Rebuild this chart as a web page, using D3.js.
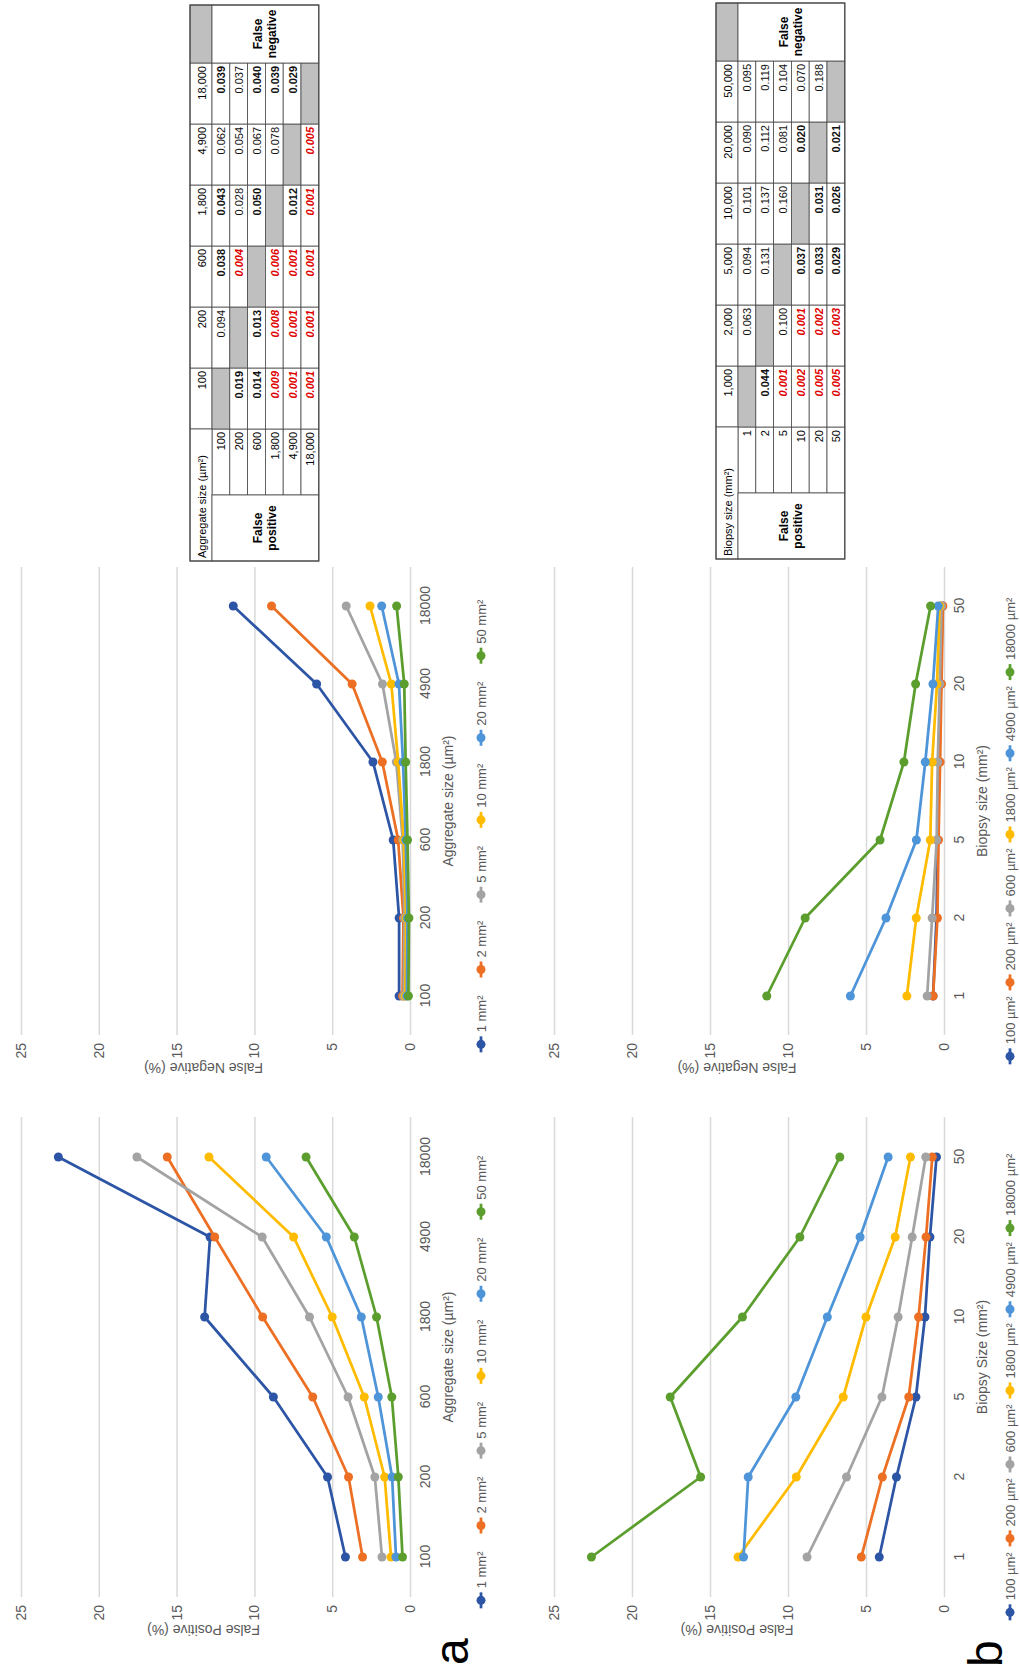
<!DOCTYPE html>
<html>
<head>
<meta charset="utf-8">
<script src="https://cdn.jsdelivr.net/npm/d3@7"></script>
<style>
  body { margin: 0; background: #fff; }
  text { font-family: Arial, "Liberation Sans", sans-serif; }
</style>
</head>
<body>
<svg id="fig" width="1020" height="1667"></svg>
<script>
// ---------- data ----------
var biopsySizes = ["1", "2", "5", "10", "20", "50"];
var aggregateSizes = ["100", "200", "600", "1800", "4900", "18000"];

// false positive (%) : one row per biopsy size, one value per aggregate size
var falsePositive = [
  [4.15, 5.3, 8.78, 13.2, 12.85, 22.6],
  [3.05, 3.95, 6.25, 9.47, 12.55, 15.6],
  [1.8, 2.26, 3.98, 6.46, 9.5, 17.55],
  [1.22, 1.63, 2.94, 5.0, 7.48, 12.92],
  [0.9, 1.15, 2.04, 3.13, 5.38, 9.24],
  [0.48, 0.75, 1.17, 2.15, 3.58, 6.68]
];
// false negative (%) : same layout
var falseNegative = [
  [0.7, 0.7, 1.08, 2.38, 6.0, 11.36],
  [0.48, 0.42, 0.76, 1.78, 3.72, 8.9],
  [0.4, 0.35, 0.47, 0.88, 1.77, 4.1],
  [0.3, 0.25, 0.4, 0.76, 1.2, 2.57],
  [0.2, 0.16, 0.27, 0.45, 0.71, 1.82],
  [0.1, 0.07, 0.16, 0.28, 0.37, 0.86]
];
var yTicks = [0, 5, 10, 15, 20, 25];

// p-value tables (null = diagonal)
var aggColLabels = ["100", "200", "600", "1,800", "4,900", "18,000"];
var aggRowLabels = ["100", "200", "600", "1,800", "4,900", "18,000"];
var aggP = [
  [null, "0.094", "0.038", "0.043", "0.062", "0.039"],
  ["0.019", null, "0.004", "0.028", "0.054", "0.037"],
  ["0.014", "0.013", null, "0.050", "0.067", "0.040"],
  ["0.009", "0.008", "0.006", null, "0.078", "0.039"],
  ["0.001", "0.001", "0.001", "0.012", null, "0.029"],
  ["0.001", "0.001", "0.001", "0.001", "0.005", null]
];
// 0 = not significant, 1 = significant, 2 = highly significant
var aggSig = [
  [0, 0, 1, 1, 0, 1],
  [1, 0, 2, 0, 0, 0],
  [1, 1, 0, 1, 0, 1],
  [2, 2, 2, 0, 0, 1],
  [2, 2, 2, 1, 0, 1],
  [2, 2, 2, 2, 2, 0]
];
var biopsyColLabels = ["1,000", "2,000", "5,000", "10,000", "20,000", "50,000"];
var biopsyRowLabels = ["1", "2", "5", "10", "20", "50"];
var biopsyP = [
  [null, "0.063", "0.094", "0.101", "0.090", "0.095"],
  ["0.044", null, "0.131", "0.137", "0.112", "0.119"],
  ["0.001", "0.100", null, "0.160", "0.081", "0.104"],
  ["0.002", "0.001", "0.037", null, "0.020", "0.070"],
  ["0.005", "0.002", "0.033", "0.031", null, "0.188"],
  ["0.005", "0.003", "0.029", "0.026", "0.021", null]
];
var biopsySig = [
  [0, 0, 0, 0, 0, 0],
  [1, 0, 0, 0, 0, 0],
  [2, 0, 0, 0, 0, 0],
  [2, 2, 1, 0, 1, 0],
  [2, 2, 1, 1, 0, 0],
  [2, 2, 1, 1, 1, 0]
];

var colors = ["#2D55A5", "#EC6F24", "#A3A3A3", "#FFBB00", "#4E94D8", "#5B9E2E"];
var grey = "#595959";

// the whole figure is drawn landscape (1667 x 1020) and turned a quarter left
var svg = d3.select("#fig");
var fig = svg.append("g").attr("transform", "translate(0,1667) rotate(-90)");

var rows = [
  { top: 21, bottom: 410, legendDy: 71, legendShift: -25, legendGap: 18 },
  { top: 554, bottom: 944, legendDy: 66, legendShift: -30, legendGap: 6 }
];
var fpRange = [70, 550];
var fnRange = [632, 1100];

function drawChart(o) {
  var g = fig.append("g");
  var x = d3.scalePoint().domain(o.cats).range(o.range).padding(0.5);
  var y = d3.scaleLinear().domain([0, 25]).range([o.row.bottom, o.row.top]);
  var w = o.range[1] - o.range[0];

  // y grid + labels
  g.append("g")
    .attr("transform", `translate(${o.range[0]},0)`)
    .call(d3.axisLeft(y).tickValues(yTicks).tickSize(-w).tickPadding(8))
    .call((g) => g.select(".domain").remove())
    .call((g) => g.selectAll(".tick line").attr("stroke", "#D9D9D9").attr("stroke-width", 1.5))
    .call((g) => g.selectAll(".tick text").attr("fill", grey).attr("font-size", 14).attr("font-family", null));

  // x labels
  g.append("g")
    .attr("transform", `translate(0,${o.row.bottom})`)
    .call(d3.axisBottom(x).tickSize(0).tickPadding(10))
    .call((g) => g.select(".domain").remove())
    .call((g) => g.selectAll(".tick text").attr("fill", grey).attr("font-size", 14).attr("font-family", null));

  // axis titles
  g.append("text")
    .attr("x", (o.range[0] + o.range[1]) / 2)
    .attr("y", o.row.bottom + 43)
    .attr("text-anchor", "middle")
    .attr("font-size", 14)
    .attr("fill", grey)
    .text(o.xTitle);
  g.append("text")
    .attr("transform", `translate(${o.range[0] - 28},${(o.row.top + o.row.bottom) / 2 - 12}) rotate(-90)`)
    .attr("text-anchor", "middle")
    .attr("font-size", 14)
    .attr("fill", grey)
    .text(o.yTitle);

  var line = d3.line().x((d, i) => x(o.cats[i])).y((d) => y(d));
  var series = g.append("g").selectAll("g").data(o.series).join("g");
  series.append("path")
    .attr("d", line)
    .attr("fill", "none")
    .attr("stroke", (d, i) => colors[i])
    .attr("stroke-width", 2.75)
    .attr("stroke-linejoin", "round");
  series.selectAll("circle")
    .data((d, i) => d.map((v, k) => ({ v: v, k: k, s: i })))
    .join("circle")
    .attr("cx", (d) => x(o.cats[d.k]))
    .attr("cy", (d) => y(d.v))
    .attr("r", 4.5)
    .attr("fill", (d) => colors[d.s]);

  // legend
  var lg = g.append("g");
  var items = lg.selectAll("g").data(o.names).join("g");
  items.append("line").attr("x1", 0).attr("x2", 16)
    .attr("stroke", (d, i) => colors[i]).attr("stroke-width", 2.75);
  items.append("circle").attr("cx", 8).attr("r", 4.5).attr("fill", (d, i) => colors[i]);
  items.append("text").attr("x", 20).attr("dy", "0.35em")
    .attr("font-size", 13).attr("fill", grey).text((d) => d);
  var pos = 0, offs = [];
  items.each(function () {
    offs.push(pos);
    pos += 20 + this.querySelector("text").getComputedTextLength() + o.row.legendGap;
  });
  pos -= o.row.legendGap;
  var start = (o.range[0] + o.range[1]) / 2 + o.row.legendShift - pos / 2;
  items.attr("transform", (d, i) => `translate(${start + offs[i]},${o.row.bottom + o.row.legendDy})`);
}

function drawTable(o) {
  var colW = [66, 66, 61, 61, 61, 61, 61, 61, 58];
  var headH = 22, rowH = 17.8;
  var xs = [0];
  colW.forEach((w) => xs.push(xs[xs.length - 1] + w));
  var width = xs[xs.length - 1], height = headH + rowH * 6;
  var t = fig.append("g").attr("transform", `translate(${o.u0},${o.v0})`);
  var line = "#4a4a4a";

  var cells = [];
  o.values.forEach((r, i) => r.forEach((v, j) => cells.push({ i: i, j: j, v: v, s: o.sig[i][j] })));

  // row label cells
  t.selectAll(".rl").data(o.rowLabels).join("rect")
    .attr("x", xs[1]).attr("y", (d, i) => headH + i * rowH)
    .attr("width", colW[1]).attr("height", rowH)
    .attr("fill", "#fff").attr("stroke", line).attr("stroke-width", 0.8);
  // column header cells
  t.selectAll(".ch").data(o.colLabels).join("rect")
    .attr("x", (d, j) => xs[j + 2]).attr("y", 0)
    .attr("width", (d, j) => colW[j + 2]).attr("height", headH)
    .attr("fill", "#fff").attr("stroke", line).attr("stroke-width", 0.8);
  // value cells
  t.selectAll(".vc").data(cells).join("rect")
    .attr("x", (d) => xs[d.j + 2]).attr("y", (d) => headH + d.i * rowH)
    .attr("width", (d) => colW[d.j + 2]).attr("height", rowH)
    .attr("fill", (d) => (d.v === null ? "#BFBFBF" : "#fff"))
    .attr("stroke", line).attr("stroke-width", 0.8);
  // merged cells
  var merged = [
    [0, 0, colW[0] + colW[1], headH, "#fff"],
    [0, headH, colW[0], rowH * 6, "#fff"],
    [xs[8], 0, colW[8], headH, "#BFBFBF"],
    [xs[8], headH, colW[8], rowH * 6, "#fff"]
  ];
  t.selectAll(".mc").data(merged).join("rect")
    .attr("x", (d) => d[0]).attr("y", (d) => d[1])
    .attr("width", (d) => d[2]).attr("height", (d) => d[3])
    .attr("fill", (d) => d[4]).attr("stroke", line).attr("stroke-width", 0.8);
  t.append("rect").attr("width", width).attr("height", height)
    .attr("fill", "none").attr("stroke", line).attr("stroke-width", 1.2);

  t.append("text").attr("x", 3).attr("y", headH - 6)
    .attr("font-size", 11).text(o.title);
  t.selectAll(".cht").data(o.colLabels).join("text")
    .attr("x", (d, j) => xs[j + 3] - 3).attr("y", headH - 6)
    .attr("text-anchor", "end").attr("font-size", 11).text((d) => d);
  t.selectAll(".rlt").data(o.rowLabels).join("text")
    .attr("x", xs[2] - 3).attr("y", (d, i) => headH + (i + 1) * rowH - 4.5)
    .attr("text-anchor", "end").attr("font-size", 11).text((d) => d);
  t.selectAll(".vt").data(cells.filter((d) => d.v !== null)).join("text")
    .attr("x", (d) => xs[d.j + 3] - 3).attr("y", (d) => headH + (d.i + 1) * rowH - 4.5)
    .attr("text-anchor", "end").attr("font-size", 11)
    .attr("font-weight", (d) => (d.s > 0 ? "bold" : null))
    .attr("font-style", (d) => (d.s === 2 ? "italic" : null))
    .attr("fill", (d) => (d.s === 2 ? "#E00000" : "#111"))
    .text((d) => d.v);

  [["False", "positive", colW[0] / 2], ["False", "negative", xs[8] + colW[8] / 2]].forEach((m) => {
    var tx = t.append("text").attr("text-anchor", "middle").attr("font-size", 12)
      .attr("font-weight", "bold");
    tx.append("tspan").attr("x", m[2]).attr("y", headH + rowH * 3 - 3).text(m[0]);
    tx.append("tspan").attr("x", m[2]).attr("y", headH + rowH * 3 + 11).text(m[1]);
  });
}

var transpose = (m) => m[0].map((_, j) => m.map((r) => r[j]));
var mm = biopsySizes.map((s) => s + " mm\u00B2");
var um = aggregateSizes.map((s) => s + " \u00B5m\u00B2");

drawChart({ cats: aggregateSizes, series: falsePositive, names: mm, range: fpRange, row: rows[0],
  xTitle: "Aggregate size (\u00B5m\u00B2)", yTitle: "False Positive (%)" });
drawChart({ cats: aggregateSizes, series: falseNegative, names: mm, range: fnRange, row: rows[0],
  xTitle: "Aggregate size (\u00B5m\u00B2)", yTitle: "False Negative (%)" });
drawChart({ cats: biopsySizes, series: transpose(falsePositive), names: um, range: fpRange, row: rows[1],
  xTitle: "Biopsy Size (mm\u00B2)", yTitle: "False Positive (%)" });
drawChart({ cats: biopsySizes, series: transpose(falseNegative), names: um, range: fnRange, row: rows[1],
  xTitle: "Biopsy size (mm\u00B2)", yTitle: "False Negative (%)" });

drawTable({ u0: 1106, v0: 190, title: "Aggregate size (\u00B5m\u00B2)",
  colLabels: aggColLabels, rowLabels: aggRowLabels, values: aggP, sig: aggSig });
drawTable({ u0: 1108, v0: 716, title: "Biopsy size (mm\u00B2)",
  colLabels: biopsyColLabels, rowLabels: biopsyRowLabels, values: biopsyP, sig: biopsySig });

// panel letters
fig.append("text").attr("x", 2).attr("y", 468).attr("font-size", 48).text("a");
fig.append("text").attr("x", 0).attr("y", 1002).attr("font-size", 48).text("b");
</script>
</body>
</html>
